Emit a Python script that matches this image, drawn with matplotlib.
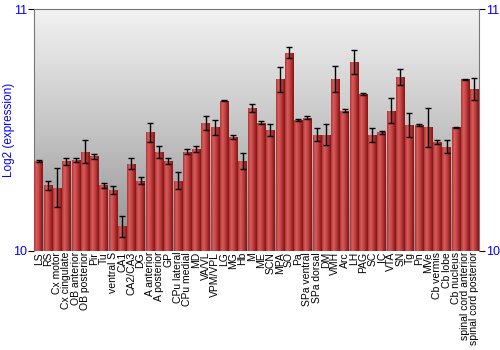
import numpy as np
import matplotlib
matplotlib.use("Agg")
import matplotlib.pyplot as plt
from matplotlib.colors import LinearSegmentedColormap

plt.rcParams["font.family"] = ["Liberation Sans", "DejaVu Sans"]

regions = ["LS", "RS", "Cx motor", "Cx cingulate", "OB anterior", "OB posterior",
           "Pir", "Tu", "ventral S", "CA1", "CA2/CA3", "DG", "A anterior",
           "A posterior", "GP", "CPu lateral", "CPu medial", "MD", "VA/VL",
           "VPM/VPL", "LG", "MG", "Hb", "M", "ME", "SCN", "MPA", "SO", "Pa",
           "SPa ventral", "SPa dorsal", "DM", "VMH", "Arc", "LH", "PAG", "SC",
           "IC", "VTA", "SN", "Tg", "Pn", "MVe", "Cb vermis", "Cb lobe",
           "Cb nucleus", "spinal cord anterior", "spinal cord posterior"]

expression = [10.37, 10.27, 10.26, 10.37, 10.375, 10.41, 10.39, 10.27, 10.25,
              10.10, 10.36, 10.29, 10.49, 10.41, 10.37, 10.29, 10.41, 10.42,
              10.53, 10.51, 10.62, 10.47, 10.37, 10.59, 10.53, 10.50, 10.71,
              10.82, 10.54, 10.55, 10.48, 10.48, 10.71, 10.58, 10.78, 10.65,
              10.48, 10.49, 10.58, 10.72, 10.52, 10.52, 10.51, 10.45, 10.43,
              10.51, 10.71, 10.67]

errors = [0.005, 0.019, 0.08, 0.015, 0.008, 0.046, 0.01, 0.01, 0.016, 0.044,
          0.022, 0.015, 0.039, 0.025, 0.012, 0.036, 0.01, 0.012, 0.029, 0.031,
          0.002, 0.007, 0.033, 0.015, 0.006, 0.025, 0.052, 0.022, 0.005, 0.007,
          0.026, 0.044, 0.054, 0.006, 0.05, 0.004, 0.029, 0.007, 0.052, 0.034,
          0.048, 0.006, 0.08, 0.01, 0.027, 0.002, 0.002, 0.045]

ymin, ymax = 10, 11
blue = "#0000ff"

fig = plt.figure(figsize=(5, 3.5), dpi=100)
ax = fig.add_axes([0.068, 0.284, 0.89, 0.69])

x = np.arange(len(regions))
ax.set_xlim(-0.5, len(regions) - 0.5)
ax.set_ylim(ymin, ymax)

# background gradient
bg = LinearSegmentedColormap.from_list("bg", ["#8f8f8f", "#c4c4c4", "#f2f2f2"])
grad = np.linspace(0, 1, 256).reshape(-1, 1)
ax.imshow(grad, cmap=bg, origin="lower", aspect="auto", zorder=0,
          extent=[-0.5, len(regions) - 0.5, ymin, ymax])

bars = ax.bar(x, np.array(expression) - ymin, bottom=ymin, width=0.9,
              color="#b83434", edgecolor="none", zorder=2)

barmap = LinearSegmentedColormap.from_list(
    "bar", ["#ad3434", "#d85c5c", "#c84848", "#a82c2c", "#801616"])
hgrad = np.linspace(0, 1, 64).reshape(1, -1)
for b in bars:
    x0, y0 = b.get_x(), b.get_y()
    im = ax.imshow(hgrad, cmap=barmap, aspect="auto", zorder=3,
                   extent=[x0, x0 + b.get_width(), y0, y0 + b.get_height()])
    im.set_clip_path(b)

ax.errorbar(x, expression, yerr=errors, fmt="none", ecolor="black",
            elinewidth=1, capsize=2, capthick=1, zorder=4)

ax.set_xticks(x)
ax.set_xticklabels(regions, rotation=90, fontsize=7.5)
ax.tick_params(axis="x", length=0, pad=1)

ax.set_yticks([ymin, ymax])
ax.set_yticklabels(["10", "11"], color=blue, fontsize=9)
ax.tick_params(axis="y", length=4, pad=1, right=True, labelright=True,
               color="black")
ax.set_ylabel("Log2 (expression)", color=blue, fontsize=8.5)
ax.yaxis.set_label_coords(-0.043, 0.5)

for side in ["left", "right", "top"]:
    ax.spines[side].set_color("#777777")
ax.spines["bottom"].set_visible(False)

fig.savefig("out.png", dpi=100)
